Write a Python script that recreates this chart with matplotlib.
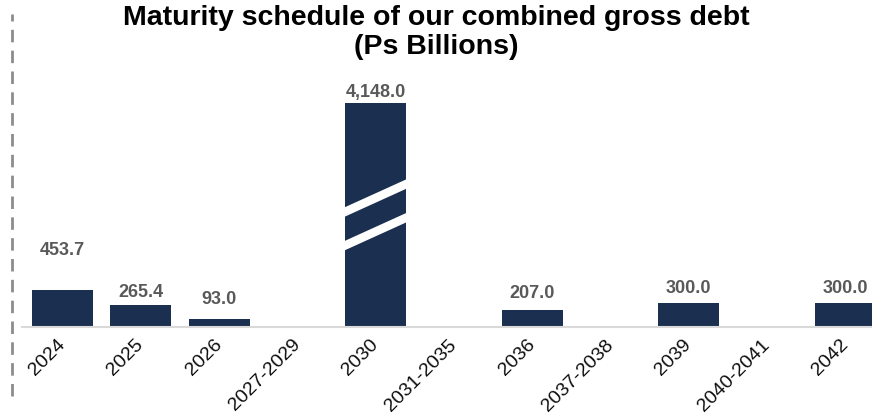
import matplotlib
matplotlib.use('Agg')
import matplotlib.pyplot as plt
import matplotlib.patches as mpatches
from matplotlib.lines import Line2D
import numpy as np

plt.rcParams['font.family'] = ['Liberation Sans', 'DejaVu Sans']

# --- data ---
categories = ['2024', '2025', '2026', '2027-2029', '2030', '2031-2035',
              '2036', '2037-2038', '2039', '2040-2041', '2042']
values = [453.7, 265.4, 93.0, 0.0, 4148.0, 0.0, 207.0, 0.0, 300.0, 0.0, 300.0]
label_offsets = [22, 3, 8, 0, 1.5, 0, 6, 0, 4, 0, 4]   # points above bar top

BREAK_CAP = 2750      # displayed height for the broken 2030 bar
NAVY = '#1b3050'
LABEL_GREY = '#595959'

fig = plt.figure(figsize=(8.72, 4.17), dpi=100)
fig.patch.set_facecolor('white')
ax = fig.add_axes([0.0252, 0.2158, 0.9748, 0.645])

x = np.arange(len(categories))
shown = np.minimum(values, BREAK_CAP)
bar_w = 0.78
ax.bar(x, shown, width=bar_w, color=NAVY, zorder=2)

# value labels
for xi, v, h, off in zip(x, values, shown, label_offsets):
    if v <= 0:
        continue
    ax.annotate(f'{v:,.1f}', xy=(xi, h), xytext=(0, off), textcoords='offset points',
                ha='center', va='bottom', fontsize=13, fontweight='bold',
                color=LABEL_GREY, clip_on=False)

# break marks on the capped bar
for xi, v, h in zip(x, values, shown):
    if v <= BREAK_CAP:
        continue
    x0, x1 = xi - bar_w / 2 - 0.02, xi + bar_w / 2 + 0.02
    thick = 0.042 * h
    for lo_left, lo_right in [(0.49, 0.62), (0.34, 0.47)]:
        poly = mpatches.Polygon([(x0, lo_left * h), (x1, lo_right * h),
                                 (x1, lo_right * h + thick), (x0, lo_left * h + thick)],
                                closed=True, facecolor='white', edgecolor='none', zorder=3)
        ax.add_patch(poly)

ax.set_xlim(-0.52, 10.34)
ax.set_ylim(0, 3300)
ax.set_xticks(x)
ax.set_xticklabels(categories, rotation=45, ha='right', va='center',
                   rotation_mode='anchor', fontsize=14, color='#0d0d0d')
ax.tick_params(axis='x', length=0, pad=11)
ax.set_yticks([])
for side in ['top', 'right', 'left']:
    ax.spines[side].set_visible(False)
ax.spines['bottom'].set_color('#d9d9d9')
ax.spines['bottom'].set_linewidth(1.5)

# title
fig.text(0.5, 0.987, 'Maturity schedule of our combined gross debt\n(Ps Billions)',
         ha='center', va='top', fontsize=20.5, fontweight='bold', color='black',
         linespacing=1.13)

# dashed vertical guide on the left
fig.add_artist(Line2D([0.014, 0.014], [0.05, 0.967], transform=fig.transFigure,
                      color='#8c8c8c', lw=2, linestyle=(0, (4.5, 3))))

fig.savefig('out.png', dpi=100, facecolor='white')
